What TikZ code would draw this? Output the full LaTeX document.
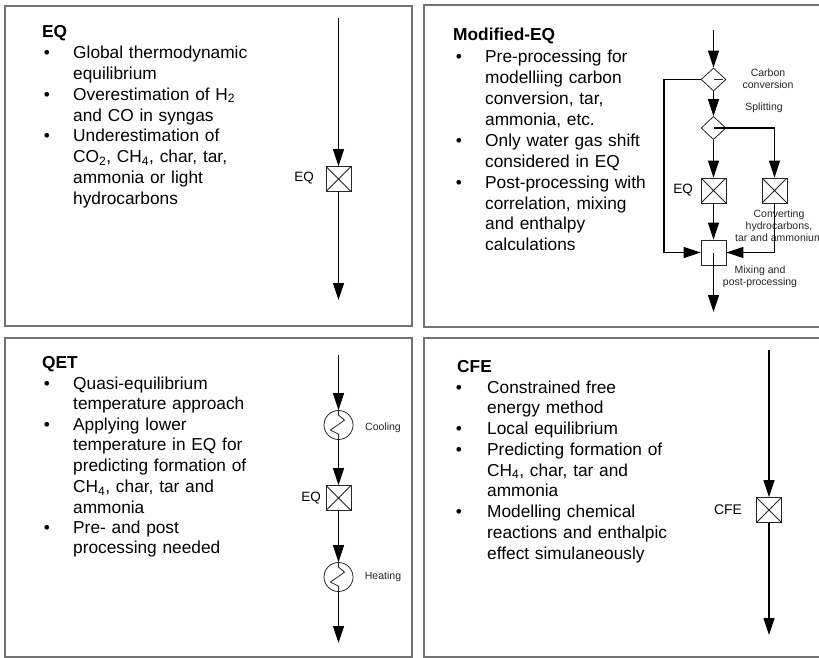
\documentclass[tikz,border=0pt]{standalone}
\usepackage{fontspec}
\setmainfont{Liberation Sans}
\usetikzlibrary{arrows.meta,shapes.geometric}
\tikzset{
 panel/.style={draw=black!55, line width=1.5pt},
 flow/.style={line width=1.2pt, -{Triangle[length=17pt,width=11pt]}},
 plain/.style={line width=1.2pt},
 thinl/.style={draw=black!85, line width=0.8pt},
 blk/.style={draw=black!85, line width=0.8pt, minimum size=25pt, inner sep=0pt},
 reactor/.style={blk, path picture={\draw[black!85,line width=0.8pt] (path picture bounding box.north west) -- (path picture bounding box.south east) (path picture bounding box.south west) -- (path picture bounding box.north east);}},
 split/.style={diamond, draw=black!85, line width=0.8pt, minimum width=25pt, minimum height=23pt, inner sep=0pt},
 hx/.style={circle, draw=black!85, line width=0.8pt, minimum size=29pt, inner sep=0pt},
 ttl/.style={anchor=base west, inner sep=0pt, font=\fontsize{17.3}{20.8}\selectfont\bfseries},
 itm/.style={anchor=base west, inner sep=0pt, text width=320pt, align=left, font=\fontsize{17.3}{20.75}\selectfont},
 bul/.style={anchor=base, inner sep=0pt, font=\fontsize{17.3}{20.8}\selectfont},
 lab/.style={inner sep=0pt, font=\fontsize{13.5}{16}\selectfont},
 sml/.style={inner sep=0pt, align=center, font=\fontsize{10.5}{12}\selectfont, text=black!85},
}
\begin{document}
\begin{tikzpicture}[x=1pt,y=-1pt]
\clip (0,0) rectangle (819,658);
\fill[white] (0,0) rectangle (819,658);

% ---------------- Panel EQ ----------------
\draw[panel] (5,6) rectangle (412,326);
\node[ttl] (t1) at (42,38) {EQ};
\node[bul] (b11) at (47,59) {•};
\node[itm] (i11) at (73,59) {Global thermodynamic\\equilibrium};
\node[bul] (b12) at (47,100.4) {•};
\node[itm] (i12) at (73,100.4) {Overestimation of H\textsubscript{2}\\and CO in syngas};
\node[bul] (b13) at (47,141.8) {•};
\node[itm] (i13) at (73,141.8) {Underestimation of\\CO\textsubscript{2}, CH\textsubscript{4}, char, tar,\\ammonia or light\\hydrocarbons};
\coordinate (a0) at (338.5,18);
\node[reactor] (eq1) at (338.5,179) {};
\coordinate (a1) at (338.5,300);
\node[lab] (l1) at (304,178) {EQ};
\draw[flow] (a0) -- (eq1.north);
\draw[flow] (eq1.south) -- (a1);

% ---------------- Panel Modified-EQ ----------------
\draw[panel] (424,5) rectangle (830,327);
\node[ttl] (t2) at (453,41) {Modified-EQ};
\node[bul] (b21) at (459,63) {•};
\node[itm] (i21) at (485,63) {Pre-processing for\\modelliing carbon\\conversion, tar,\\ammonia, etc.};
\node[bul] (b22) at (459,146.6) {•};
\node[itm] (i22) at (485,146.6) {Only water gas shift\\considered in EQ};
\node[bul] (b23) at (459,188.4) {•};
\node[itm] (i23) at (485,188.4) {Post-processing with\\correlation, mixing\\and enthalpy\\calculations};

\node[sml] (lc) at (768,79) {Carbon\\conversion};
\node[sml] (ls) at (764,108) {Splitting};
\node[lab] (l2) at (683,190.5) {EQ};
\node[sml] (lcv) at (779,226) {Converting\\hydrocarbons,\\tar and ammonium};
\node[sml] (lm) at (760,276.5) {Mixing and\\post-processing};

\coordinate (b0) at (713.5,30);
\node[split] (d1) at (713.5,79.5) {};
\node[split] (d2) at (713.5,128) {};
\node[reactor] (eq2) at (713.5,190.5) {};
\node[reactor] (cv) at (774.5,190.5) {};
\node[blk] (mx) at (713.5,252.5) {};
\coordinate (b1) at (713.5,312);
\coordinate (bl) at (664,79.5);
\draw[flow] (b0) -- (d1.north);
\draw[flow] (d1.south) -- (d2.north);
\draw[flow] (d2.south) -- (eq2.north);
\draw[flow] (eq2.south) -- (mx.north);
\draw[thinl] (d1.center) -- ++(9,0);
\draw[flow] (d2.center) -| (cv.north);
\draw[flow] (d1.west) -- (bl) |- (mx.west);
\draw[flow] (cv.south) |- (mx.east);
\draw[flow] (mx.center) -- (b1);

% ---------------- Panel QET ----------------
\draw[panel] (5,338) rectangle (412,657);
\node[ttl] (t3) at (42,368) {QET};
\node[bul] (b31) at (47,389) {•};
\node[itm] (i31) at (73,389) {Quasi-equilibrium\\temperature approach};
\node[bul] (b32) at (47,430.2) {•};
\node[itm] (i32) at (73,430.2) {Applying lower\\temperature in EQ for\\predicting formation of\\CH\textsubscript{4}, char, tar and\\ammonia};
\node[bul] (b33) at (47,533.2) {•};
\node[itm] (i33) at (73,533.2) {Pre- and post\\processing needed};

\coordinate (c0) at (338.5,355);
\node[hx] (h1) at (338.5,425) {};
\node[reactor] (eq3) at (338.5,498) {};
\node[hx] (h2) at (338.5,577) {};
\coordinate (c1) at (338.5,643);
\node[sml] (lco) at (383,428) {Cooling};
\node[sml] (lhe) at (383,577) {Heating};
\node[lab] (l3) at (311,498) {EQ};
\draw[flow] (c0) -- (h1.north);
\draw[flow] (h1.south) -- (eq3.north);
\draw[flow] (eq3.south) -- (h2.north);
\draw[flow] (h2.south) -- (c1);
\draw[thinl] (h1.north) -- ++(0,5) -- ++(6,5) -- ++(-14,10) -- ++(8,4) -- (h1.south);
\draw[thinl] (h2.north) -- ++(0,5) -- ++(6,5) -- ++(-14,10) -- ++(8,4) -- (h2.south);

% ---------------- Panel CFE ----------------
\draw[panel] (424,338) rectangle (830,657);
\node[ttl] (t4) at (457,372) {CFE};
\node[bul] (b41) at (459,393) {•};
\node[itm] (i41) at (487,393) {Constrained free\\energy method};
\node[bul] (b42) at (459,434.5) {•};
\node[itm] (i42) at (487,434.5) {Local equilibrium};
\node[bul] (b43) at (459,455.25) {•};
\node[itm] (i43) at (487,455.25) {Predicting formation of\\CH\textsubscript{4}, char, tar and\\ammonia};
\node[bul] (b44) at (459,517.5) {•};
\node[itm] (i44) at (487,517.5) {Modelling chemical\\reactions and enthalpic\\effect simulaneously};

\coordinate (e0) at (769,350);
\node[reactor] (cfe) at (769,510) {};
\coordinate (e1) at (769,635);
\node[lab, font=\fontsize{14}{16}\selectfont] (l4) at (728,510) {CFE};
\draw[flow] (e0) -- (cfe.north);
\draw[flow] (cfe.south) -- (e1);
\end{tikzpicture}
\end{document}
